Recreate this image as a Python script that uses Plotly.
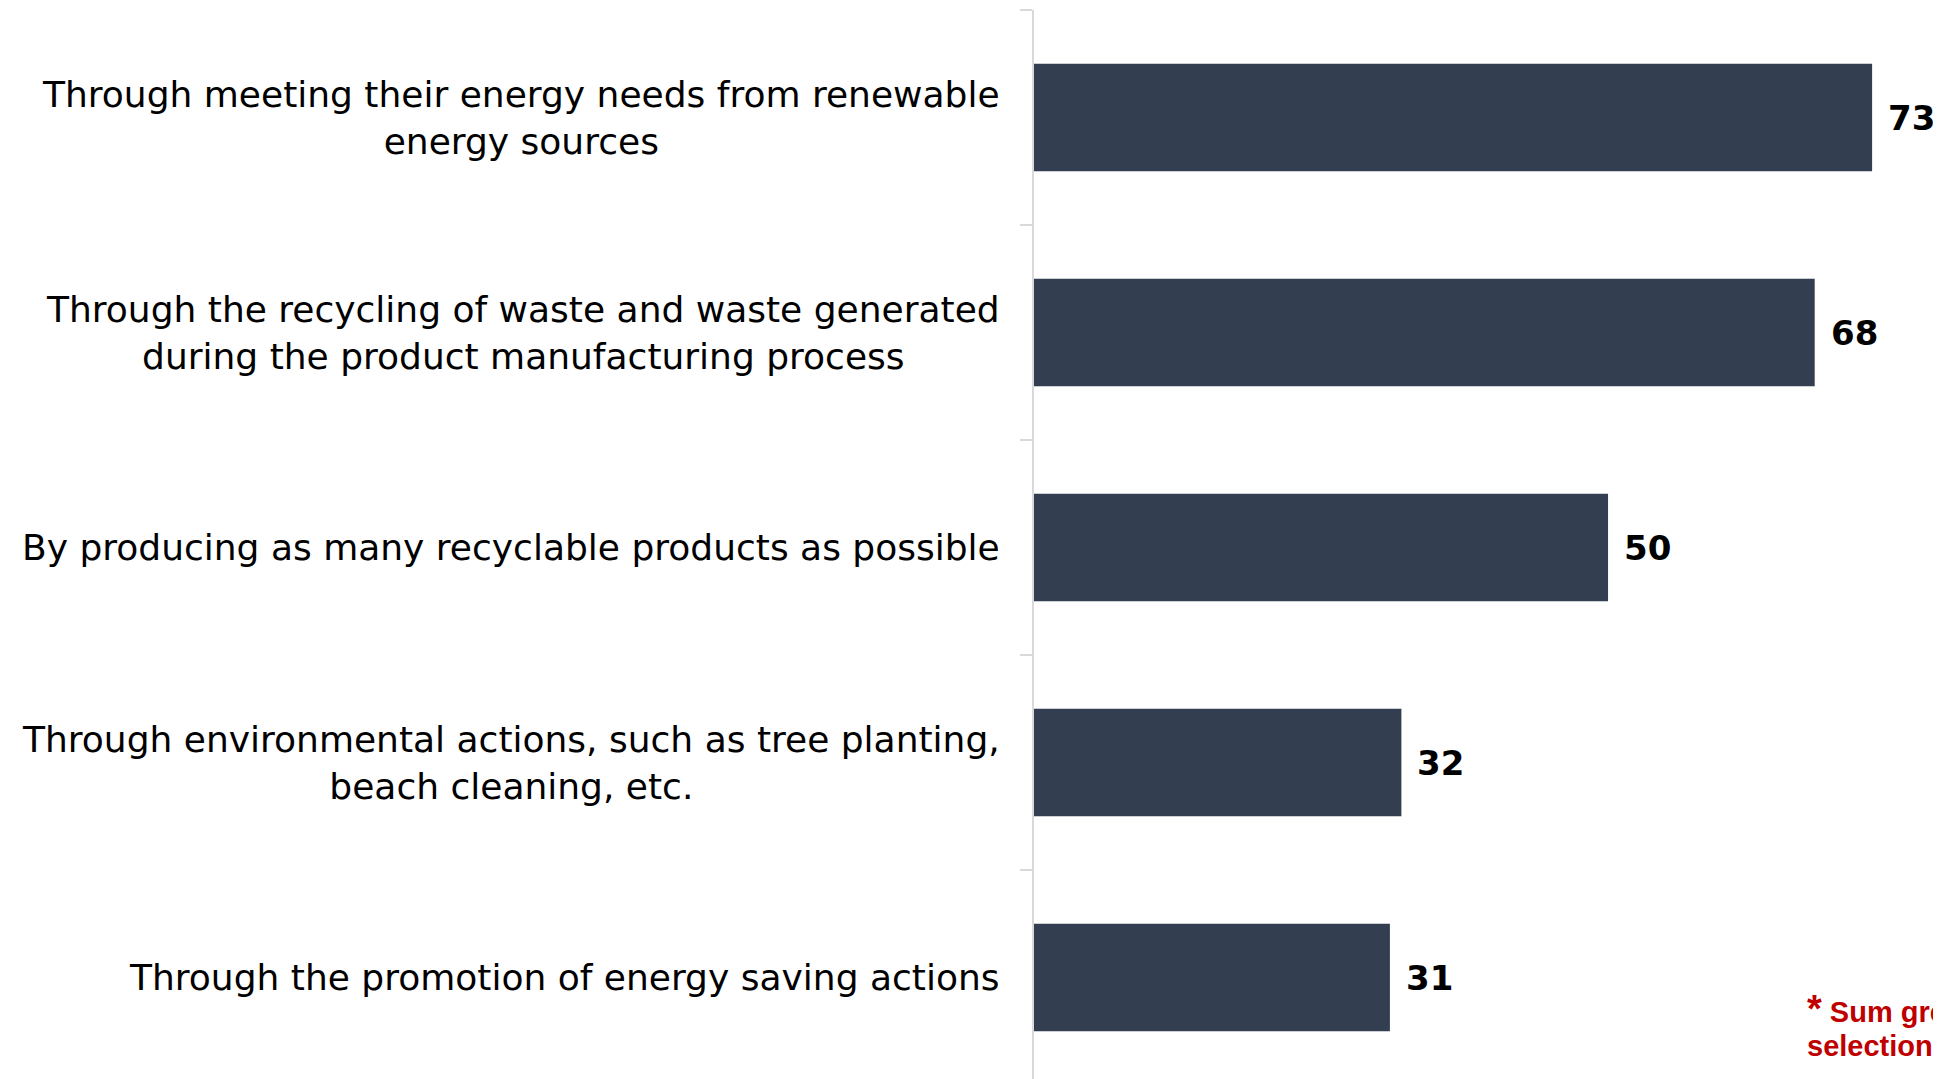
import plotly.graph_objects as go

categories = [
    "Through meeting their energy needs from renewable<br>energy sources",
    "Through the recycling of waste and waste generated<br>during the product manufacturing process",
    "By producing as many recyclable products as possible",
    "Through environmental actions, such as tree planting,<br>beach cleaning, etc.",
    "Through the promotion of energy saving actions",
]
values = [73, 68, 50, 32, 31]
note_lines = [
    "<span style='font-size:38px'>*</span> Sum greater than 100 due to multiple",
    "selection possibility",
]

bar_color = "#333F50"
axis_color = "#D9D9D9"
label_font = "DejaVu Sans"

# page body has an 8px default margin; figure is sized to fit the window
W, H = 1933, 1071
L, T = 1026, 2

fig = go.Figure()
fig.add_trace(go.Bar(
    x=values,
    y=categories,
    orientation="h",
    marker=dict(color=bar_color, line=dict(width=0)),
    width=0.5,
    hoverinfo="skip",
))

annotations = []
for cat, val in zip(categories, values):
    annotations.append(dict(
        x=0, xref="paper", y=cat, yref="y",
        text=cat, showarrow=False,
        xanchor="right", yanchor="middle", align="center",
        xshift=-32,
        font=dict(family=label_font, size=36, color="#000000"),
    ))
    annotations.append(dict(
        x=val, xref="x", y=cat, yref="y",
        text=str(val), showarrow=False,
        xanchor="left", yanchor="middle",
        xshift=14,
        font=dict(family=label_font, size=34, color="#000000", weight=700),
    ))

for line, ypix in zip(note_lines, [1001, 1038]):
    annotations.append(dict(
        x=(1797 - L) / (W - L), xref="paper",
        y=(H - ypix) / (H - T), yref="paper",
        text=line, showarrow=False,
        xanchor="left", yanchor="middle", align="left",
        font=dict(family="Liberation Sans", size=29, color="#C00000", weight=700),
    ))

fig.update_layout(
    width=W, height=H,
    margin=dict(l=L, r=0, t=T, b=0, pad=0),
    paper_bgcolor="white", plot_bgcolor="white",
    showlegend=False,
    annotations=annotations,
    xaxis=dict(range=[0, 79], visible=False, fixedrange=True),
    yaxis=dict(
        type="category",
        categoryorder="array", categoryarray=categories,
        range=[4.472, -0.5],
        showticklabels=False,
        showline=True, linecolor=axis_color, linewidth=2,
        ticks="outside", tickson="boundaries", ticklen=12,
        tickcolor=axis_color, tickwidth=2,
        showgrid=False, zeroline=False, automargin=False,
    ),
)

fig.write_html("out.html")
